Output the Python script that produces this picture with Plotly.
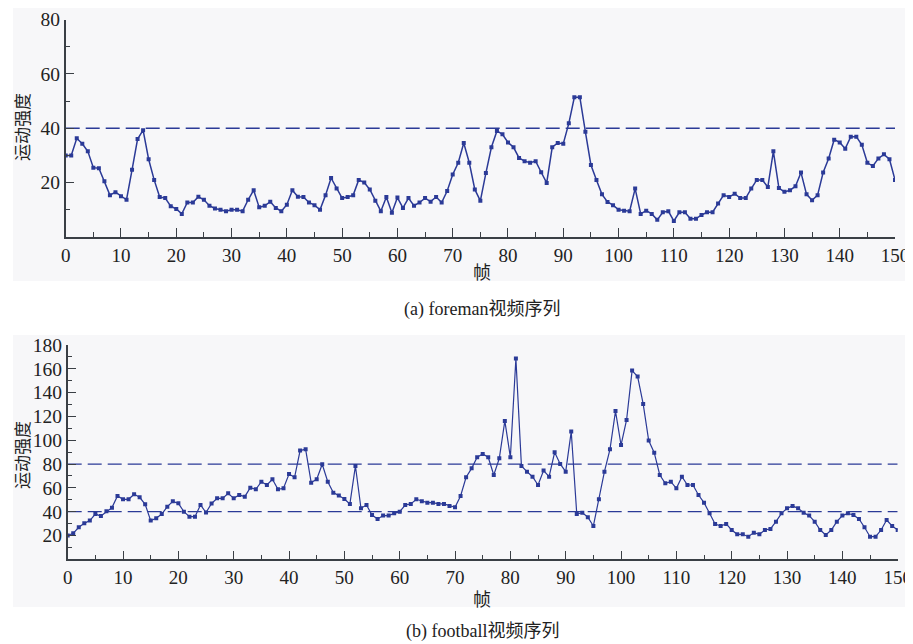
import plotly.graph_objects as go

# page body adds an 8px margin; the figure is sized to the visible area
OFF = 8
W, H = 913 - OFF, 644 - OFF

frames = list(range(151))

foreman = [30, 30, 36.3, 34.3, 31.5, 25.5, 25.3, 20.5, 15.4, 16.5,
           15, 13.7, 24.7, 36, 39.3, 28.6, 21, 14.7, 14.3, 11.3,
           10.3, 8.5, 12.7, 12.7, 14.8, 13.7, 11.5, 10.5, 10, 9.5,
           10, 10, 9.5, 13.7, 17.2, 10.9, 11.5, 13, 10.7, 9.5,
           11.9, 17.2, 14.8, 14.7, 12.7, 11.7, 10, 15.4, 21.7, 17.8,
           14.3, 14.7, 15.4, 21, 20, 17.5, 13.3, 9.5, 14.7, 8.9,
           14.5, 10.7, 14.3, 11.5, 12.7, 14.3, 13, 14.7, 12.7, 16.9,
           23, 27.3, 34.6, 27.3, 17.5, 13.3, 23.5, 33, 39, 37.8,
           34.8, 33, 29.1, 27.9, 27.3, 27.9, 23.8, 19.9, 33, 34.6,
           34.3, 41.8, 51.4, 51.4, 38.7, 26.5, 21, 15.7, 12.9, 11.7,
           10, 9.7, 9.5, 17.8, 8.5, 9.7, 8.5, 6.3, 9.1, 9.5,
           5.9, 9.1, 9.1, 6.7, 6.7, 8.1, 9.1, 9.1, 12.3, 15.4,
           14.7, 15.9, 14.3, 14.3, 17.8, 21, 21, 18.4, 31.5, 18,
           16.6, 17.2, 18.7, 23.7, 15.7, 13.5, 15.4, 23.7, 28.9, 35.8,
           34.8, 32.5, 36.9, 36.9, 33.9, 27.3, 26.1, 28.9, 30.4, 28.6,
           21]

football = [20, 21.8, 26.9, 30.2, 32.5, 38, 36.4, 40.3, 43.4, 53.2,
            50.4, 50.4, 54.6, 52.1, 46.2, 32.5, 34.4, 38, 44.2, 48.7,
            47, 40, 35.8, 35.8, 45.6, 39.3, 46.9, 51.2, 51.2, 55.4,
            51.2, 54, 52.6, 60.2, 58.8, 65.2, 62.4, 67.2, 58.8, 59.6,
            71.6, 68.9, 91.3, 92.4, 64.4, 67.2, 79.8, 65.2, 56, 53.5,
            50.7, 46.5, 78.4, 42.8, 45.6, 37.2, 33.9, 36.7, 36.7, 38.6,
            40, 45.6, 46.5, 50.4, 48.7, 47.6, 47.6, 46.5, 46.5, 44.8,
            43.7, 53.2, 68.9, 76.4, 85.7, 88.5, 85.7, 70.8, 84.8, 116.2,
            85.7, 168.6, 78.4, 73.6, 69.4, 62.4, 74.5, 69.4, 89.9, 80.1,
            73.6, 107.3, 38, 39.2, 35.3, 28, 50.4, 73.6, 92.4, 124.5,
            96, 117, 158.5, 153.5, 130.5, 99.7, 89.6, 70.8, 63.8, 65.2,
            59.6, 69.4, 62.4, 62.4, 54, 47.6, 38.6, 29.7, 28, 29.7,
            24.6, 21, 21, 19, 22.4, 21, 24.6, 25.5, 31.6, 38.6,
            42.8, 44.8, 42.8, 39.2, 36.7, 31.6, 24.6, 20.4, 24.6, 31.6,
            36.7, 38.6, 37.2, 33.9, 26.9, 19, 19, 24.6, 33, 28,
            24.6]

thr_a = [40]
thr_b = [40, 80]

x_ticks = list(range(0, 151, 10))
ya_ticks = [0, 20, 40, 60, 80]
yb_ticks = [0, 20, 40, 60, 80, 100, 120, 140, 160, 180]

ylabel = "运动强度"
xlabel = "帧"
cap_a = "(a) foreman视频序列"
cap_b = "(b) football视频序列"

BLUE = "#2B3A97"
AX = "#3a3f45"
FONT = "Liberation Serif, Noto Sans CJK SC, serif"
CJK = "Noto Sans CJK SC, Liberation Serif, serif"


def px_x(p):
    return (p - OFF) / W


def px_y(p):
    return 1 - (p - OFF) / H


fig = go.Figure()

fig.add_trace(go.Scatter(x=frames, y=foreman, mode="lines+markers",
                         line=dict(color=BLUE, width=1.5),
                         marker=dict(symbol="square", size=4, color=BLUE),
                         xaxis="x", yaxis="y", showlegend=False))
for t in thr_a:
    fig.add_trace(go.Scatter(x=[0, 150], y=[t, t], mode="lines",
                             line=dict(color=BLUE, width=1.5, dash="14px,6px"),
                             xaxis="x", yaxis="y", showlegend=False))

fig.add_trace(go.Scatter(x=frames, y=football, mode="lines+markers",
                         line=dict(color=BLUE, width=1.2),
                         marker=dict(symbol="square", size=4, color=BLUE),
                         xaxis="x2", yaxis="y2", showlegend=False))
for t in thr_b:
    fig.add_trace(go.Scatter(x=[0, 150], y=[t, t], mode="lines",
                             line=dict(color=BLUE, width=1.3, dash="14px,6px"),
                             xaxis="x2", yaxis="y2", showlegend=False))

common_x = dict(range=[0, 150], showline=True, linecolor=AX, linewidth=1.5,
                ticks="inside", ticklen=9, tickwidth=1.3, tickcolor=AX,
                tickvals=x_ticks, showgrid=False, zeroline=False, automargin=False,
                ticklabeloverflow="allow",
                tickfont=dict(family=FONT, size=19, color="#222"),
                minor=dict(tickvals=[v + 5 for v in x_ticks[:-1]], ticks="inside",
                           ticklen=5, tickwidth=1.2, tickcolor=AX))

common_y = dict(showline=True, linecolor=AX, linewidth=1.5,
                ticks="inside", ticklen=9, tickwidth=1.3, tickcolor=AX,
                showgrid=False, zeroline=False, automargin=False,
                ticklabeloverflow="allow",
                tickfont=dict(family=FONT, size=19.5, color="#222"))

fig.update_layout(
    width=W, height=H,
    margin=dict(l=0, r=0, t=0, b=0, autoexpand=False),
    paper_bgcolor="white",
    plot_bgcolor="rgba(0,0,0,0)",
    xaxis=dict(domain=[px_x(65.7), px_x(895)], anchor="y", **common_x),
    yaxis=dict(domain=[px_y(237), px_y(19.5)], anchor="x", range=[0, 80],
               tickvals=ya_ticks, ticktext=[""] + [str(v) for v in ya_ticks[1:]],
               minor=dict(tickvals=[10, 30, 50, 70], ticks="inside", ticklen=5,
                          tickwidth=1.2, tickcolor=AX),
               **common_y),
    xaxis2=dict(domain=[px_x(67.7), px_x(897.7)], anchor="y2", **common_x),
    yaxis2=dict(domain=[px_y(559.3), px_y(345)], anchor="x2", range=[0, 180],
                tickvals=yb_ticks, ticktext=[""] + [str(v) for v in yb_ticks[1:]],
                minor=dict(tickvals=[v + 10 for v in yb_ticks[:-1]], ticks="inside",
                           ticklen=5, tickwidth=1.2, tickcolor=AX),
                **common_y),
    shapes=[
        dict(type="rect", xref="paper", yref="paper", layer="below",
             x0=px_x(13), x1=px_x(911), y0=px_y(281), y1=px_y(8),
             fillcolor="#F7F7F9", line=dict(width=0)),
        dict(type="rect", xref="paper", yref="paper", layer="below",
             x0=px_x(13), x1=px_x(911), y0=px_y(607), y1=px_y(335),
             fillcolor="#F7F7F9", line=dict(width=0)),
    ],
)

ann = []
for yc in (127, 455):
    ann.append(dict(text=ylabel, x=px_x(21), y=px_y(yc), xref="paper", yref="paper",
                    textangle=-90, showarrow=False, xanchor="center", yanchor="middle",
                    font=dict(family=CJK, size=17, color="#222")))
for yc in (271, 598):
    ann.append(dict(text=xlabel, x=px_x(482), y=px_y(yc), xref="paper", yref="paper",
                    showarrow=False, xanchor="center", yanchor="middle",
                    font=dict(family=CJK, size=18, color="#222")))
ann.append(dict(text=cap_a, x=px_x(482), y=px_y(309), xref="paper", yref="paper",
                showarrow=False, xanchor="center", yanchor="middle",
                font=dict(family=FONT, size=18, color="#222")))
ann.append(dict(text=cap_b, x=px_x(482), y=px_y(631), xref="paper", yref="paper",
                showarrow=False, xanchor="center", yanchor="middle",
                font=dict(family=FONT, size=18, color="#222")))
fig.update_layout(annotations=ann)

fig.write_html("out.html")
